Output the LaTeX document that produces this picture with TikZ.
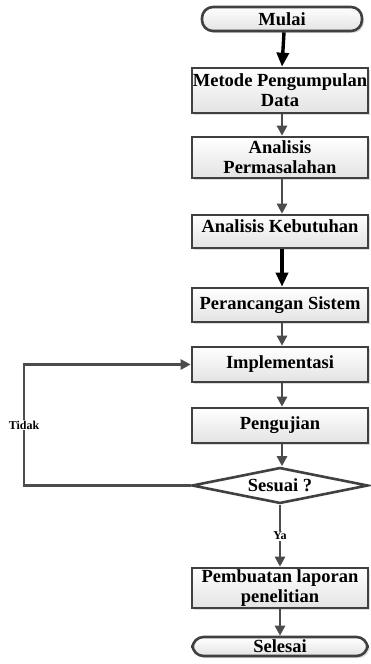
\documentclass[tikz,border=0pt]{standalone}
\usepackage{fontspec}
\setmainfont{Liberation Serif}
\usetikzlibrary{shapes.geometric,arrows.meta,shadows}

\begin{document}
\begin{tikzpicture}[x=1pt, y=-1pt,
  box/.style={rectangle, draw=black!75, line width=2.6pt, top color=white, bottom color=gray!22,
    drop shadow={shadow xshift=2pt, shadow yshift=-2pt, fill=gray!55},
    minimum width=176pt, align=center, inner sep=1pt, font=\bfseries\fontsize{18.5}{20}\selectfont},
  terminal/.style={box, rounded corners=11pt},
  decision/.style={diamond, draw=black!75, line width=2.6pt, fill=white, aspect=4.9, inner sep=0pt,
    minimum width=176pt, minimum height=36pt, font=\bfseries\fontsize{18.5}{20}\selectfont},
  flow/.style={draw=black!70, line width=2.6pt, -{Triangle[length=10pt,width=10pt]}},
  flowbold/.style={draw=black, line width=3.4pt, -{Triangle[length=14pt,width=12pt]}},
  tag/.style={fill=white, inner sep=1pt, font=\bfseries\fontsize{12}{13}\selectfont}]
\useasboundingbox (0,0) rectangle (370,664);

% Mulai
\node[terminal, minimum width=160pt, minimum height=24pt] (mulai) at (282,19) {Mulai};

% Tahapan
\node[box, minimum height=45pt] (metode) at (280,90.5) {Metode Pengumpulan\\Data};
\node[box, minimum height=41pt] (analisis) at (280,157.5) {Analisis\\Permasalahan};
\node[box, minimum height=33pt, text depth=10pt] (kebutuhan) at (280,231.5) {Analisis Kebutuhan};
\node[box, minimum height=34pt] (perancangan) at (280,305) {Perancangan Sistem};
\node[box, minimum height=35pt] (implementasi) at (280,364.5) {Implementasi};
\node[box, minimum height=35pt] (pengujian) at (280,425.5) {Pengujian};

% Keputusan
\node[decision] (sesuai) at (280,485.5) {Sesuai ?};
\coordinate (belok) at (24,485.5);

% Akhir
\node[box, minimum height=40pt] (laporan) at (280,588) {Pembuatan laporan\\penelitian};
\node[terminal, minimum width=175pt, minimum height=19pt] (selesai) at (280,646.5) {Selesai};

% Alur
\draw[flowbold] ([xshift=2pt]mulai.south) -- ([xshift=2pt]metode.north);
\draw[flow] ([xshift=2pt]metode.south) -- ([xshift=2pt]analisis.north);
\draw[flow] ([xshift=2pt]analisis.south) -- ([xshift=2pt]kebutuhan.north);
\draw[flowbold] ([xshift=2pt]kebutuhan.south) -- ([xshift=2pt]perancangan.north);
\draw[flow] ([xshift=2pt]perancangan.south) -- ([xshift=2pt]implementasi.north);
\draw[flow] ([xshift=2pt]implementasi.south) -- ([xshift=2pt]pengujian.north);
\draw[flow] ([xshift=2pt]pengujian.south) -- ([xshift=2pt]sesuai.north);
\draw[flow] (sesuai.south) -- node[tag] {Ya} (laporan.north);
\draw[flow] (laporan.south) -- (selesai.north);
\draw[flow] (sesuai.west) -- (belok) |- node[tag, pos=0.25] {Tidak} (implementasi.west);
\end{tikzpicture}
\end{document}
